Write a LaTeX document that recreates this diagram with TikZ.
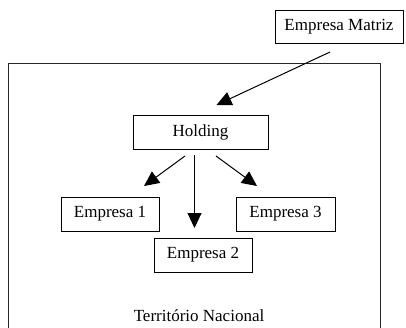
\documentclass[tikz,border=0pt]{standalone}
\usepackage{fontspec}
\setmainfont{Liberation Serif}
\usetikzlibrary{arrows.meta}
\begin{document}
\begin{tikzpicture}[x=1pt,y=-1pt,
  box/.style={draw,line width=0.9pt,inner sep=0pt,minimum height=34pt,font=\fontsize{17}{20}\selectfont},
  conn/.style={line width=1pt,-{Triangle[length=15pt,width=14pt]}},
  frame/.style={draw,line width=1.1pt,black!85}]
\clip (0,0) rectangle (406,327);
\useasboundingbox (0,0) rectangle (406,327);
\draw[frame] (8.5,63.5) rectangle (380.7,345);
\node[box,minimum width=128pt,minimum height=33pt] (matriz) at (339,26.5) {Empresa Matriz};
\node[box,minimum width=135pt] (holding) at (200.5,132) {Holding};
\node[box,minimum width=98pt] (e1) at (110,214) {Empresa 1};
\node[box,minimum width=99pt] (e3) at (285.5,214) {Empresa 3};
\node[box,minimum width=98pt] (e2) at (203,255) {Empresa 2};
\node[font=\fontsize{17}{20}\selectfont] (terr) at (199,316) {Território Nacional};
\coordinate (m0) at (330,52);
\coordinate (m1) at (216.5,105);
\coordinate (h1s) at (185,156);
\coordinate (h1e) at (144,186);
\coordinate (h2s) at (194.5,155);
\coordinate (h2e) at (194.5,228);
\coordinate (h3s) at (216,156);
\coordinate (h3e) at (257,186);
\draw[conn] (m0) -- (m1);
\draw[conn] (h1s) -- (h1e);
\draw[conn] (h2s) -- (h2e);
\draw[conn] (h3s) -- (h3e);
\end{tikzpicture}
\end{document}
